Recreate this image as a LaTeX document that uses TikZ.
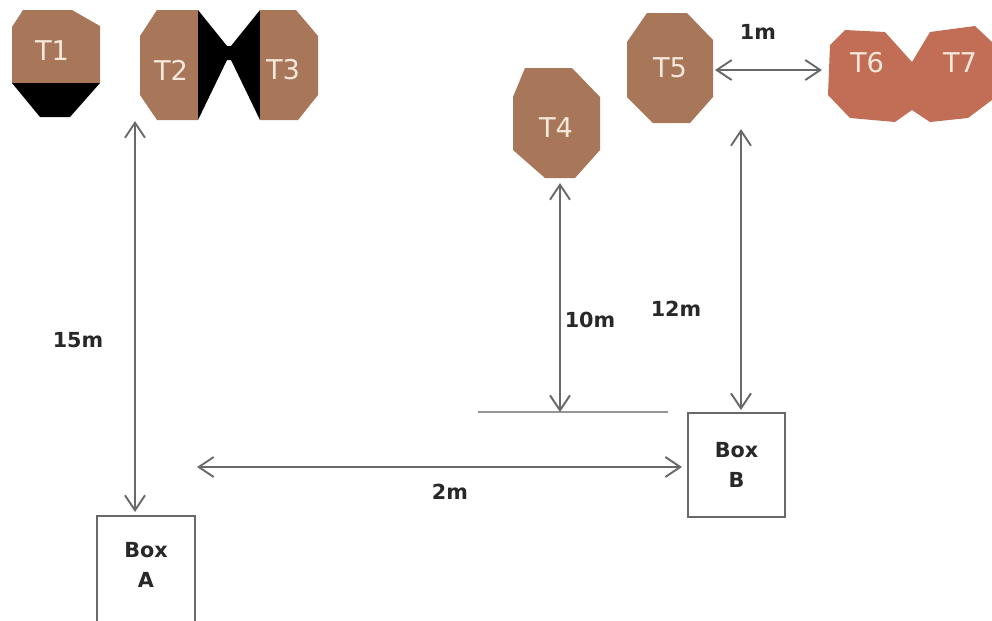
\documentclass[tikz,border=0pt]{standalone}
\usepackage{fontspec}
\setmainfont{DejaVu Sans}
\usetikzlibrary{arrows.meta}
\definecolor{tan}{RGB}{168,119,90}
\definecolor{redtan}{RGB}{194,110,86}
\definecolor{ln}{RGB}{105,105,105}
\definecolor{lbl}{RGB}{245,232,218}
\definecolor{txt}{RGB}{40,40,40}
\begin{document}
\begin{tikzpicture}[x=0.02cm,y=-0.02cm,
  dim/.style={draw=ln, line width=1.1pt,
    {Straight Barb[length=0.3cm,width=0.4cm]}-{Straight Barb[length=0.3cm,width=0.4cm]}},
  tlabel/.style={text=lbl, font=\fontsize{15.5}{18}\selectfont, inner sep=0pt},
  mlabel/.style={text=txt, font=\fontsize{11.8}{14}\selectfont\bfseries, inner sep=0pt},
  boxst/.style={draw=ln, line width=1.1pt, fill=white, minimum width=1.96cm,
    align=center, text=txt, font=\fontsize{11.8}{17}\selectfont\bfseries},
  baseline/.style={draw=ln!70, line width=0.9pt}]
\useasboundingbox (0,0) rectangle (992,620);

% T1
\fill[tan] (23,10)--(72,10)--(100,26)--(100,83)--(12,83)--(12,27)--cycle;
\fill[black] (12,83)--(100,83)--(70,117)--(40,117)--cycle;
\node[tlabel] (t1) at (52,51) {T1};

% T2 / T3 with black bow-tie
\fill[tan] (157,10)--(198,10)--(198,120)--(157,120)--(140,95)--(140,36)--cycle;
\fill[black] (198,10)--(227,46)--(231,46)--(260,10)--(260,120)--(231,60)--(227,60)--(198,120)--cycle;
\fill[tan] (260,10)--(296,10)--(318,36)--(318,95)--(298,120)--(260,120)--cycle;
\node[tlabel] (t2) at (171,70) {T2};
\node[tlabel] (t3) at (283,70) {T3};

% T4
\fill[tan] (525,68)--(572,68)--(600,97)--(600,150)--(575,178)--(545,178)--(513,150)--(513,97)--cycle;
\node[tlabel] (t4) at (556,128) {T4};

% T5
\fill[tan] (647,13)--(687,13)--(713,40)--(713,97)--(690,123)--(653,123)--(627,97)--(627,42)--cycle;
\node[tlabel] (t5) at (670,68) {T5};

% T6 / T7
\fill[redtan] (830,45)--(845,30)--(885,32)--(912,62)--(912,110)--(895,122)--(850,118)--(828,95)--cycle;
\fill[redtan] (912,62)--(930,32)--(975,26)--(992,42)--(992,100)--(968,118)--(930,122)--(912,110)--cycle;
\node[tlabel] (t6) at (867,63) {T6};
\node[tlabel] (t7) at (960,63) {T7};

% boxes
\node[boxst, anchor=north, minimum height=2.2cm, text depth=0.25cm] (boxA) at (146,515) {Box\\A};
\node[boxst, minimum height=2.08cm, minimum width=1.94cm] (boxB) at (736.5,465) {Box\\B};

% reference line
\coordinate (lineL) at (478,412);
\coordinate (lineR) at (668,412);
\draw[baseline] (lineL) -- (lineR);

% connector end points
\coordinate (t2s) at (135,121);
\coordinate (t4s) at (560,183);
\coordinate (t5s) at (741,129);
\coordinate (t5e) at (715,70);
\coordinate (t6w) at (822,70);
\coordinate (hA) at (197,467);

\draw[dim, shorten >=0.06cm] (t2s) -- (t2s |- boxA.north);
\draw[dim, shorten >=0.1cm] (hA) -- (hA -| boxB.west);
\draw[dim] (t4s) -- (t4s |- lineL);
\draw[dim, shorten >=0.04cm] (t5s) -- (t5s |- boxB.north);
\draw[dim] (t5e) -- (t6w);

% labels
\node[mlabel] (l15) at (78,340) {15m};
\node[mlabel] (l10) at (590,320) {10m};
\node[mlabel] (l12) at (676,309) {12m};
\node[mlabel] (l2) at (450,492) {2m};
\node[mlabel] (l1) at (758,32) {1m};
\end{tikzpicture}
\end{document}
